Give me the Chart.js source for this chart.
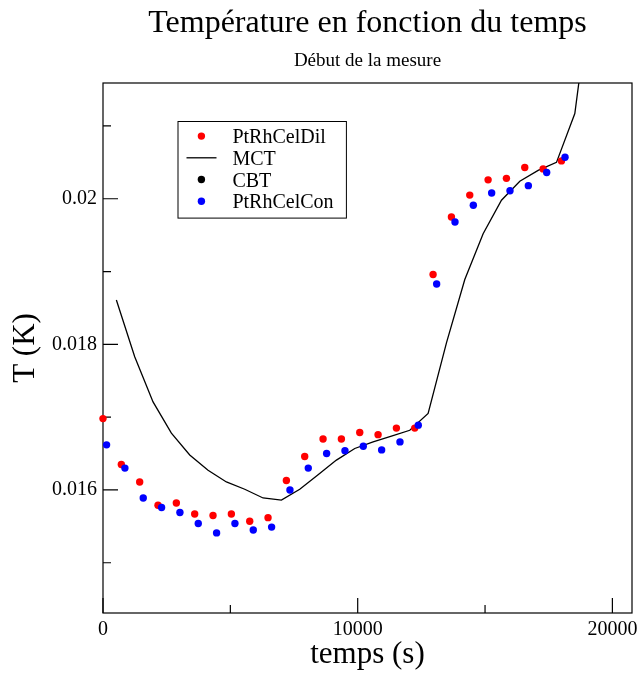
<!DOCTYPE html>
<html>
<head>
<meta charset="utf-8">
<script src="https://cdn.jsdelivr.net/npm/chart.js@4.4.1/dist/chart.umd.min.js"></script>
<style>
body { margin: 0; background: #fff; }
#wrap { width: 641px; height: 675px; }
</style>
</head>
<body>
<div id="wrap"><canvas id="myChart" width="641" height="675"></canvas></div>
<script>
// time (s) and temperature (K)
const timeDil = [0, 720, 1440, 2160, 2880, 3600, 4320, 5040, 5760, 6480, 7200, 7920, 8640, 9360,
    10080, 10800, 11520, 12240, 12960, 13680, 14400, 15120, 15840, 16560, 17280, 18000];
const tempDil = [0.01698, 0.01635, 0.01611, 0.01579, 0.01582, 0.01567, 0.01565, 0.01567, 0.01557, 0.01562,
    0.01613, 0.01646, 0.01670, 0.01670, 0.01679, 0.01676, 0.01685, 0.01685, 0.01896, 0.01975,
    0.02005, 0.02026, 0.02028, 0.02043, 0.02041, 0.02052];

const timeCon = [140, 860, 1580, 2300, 3020, 3740, 4460, 5180, 5900, 6620, 7340, 8060, 8780, 9500,
    10220, 10940, 11660, 12380, 13100, 13820, 14540, 15260, 15980, 16700, 17420, 18140];
const tempCon = [0.01662, 0.01630, 0.01589, 0.01576, 0.01569, 0.01554, 0.01541, 0.01554, 0.01545, 0.01549,
    0.01600, 0.01630, 0.01650, 0.01654, 0.01660, 0.01655, 0.01666, 0.01689, 0.01883, 0.01968,
    0.01991, 0.02008, 0.02011, 0.02018, 0.02036, 0.02057];

const timeMct = [525, 1245, 1965, 2685, 3405, 4125, 4845, 5565, 6285, 7005, 7725, 8445, 9165, 9885,
    10605, 11325, 12045, 12765, 13485, 14205, 14925, 15645, 16365, 17085, 17805, 18525, 19245];
const tempMct = [0.01861, 0.01783, 0.01721, 0.01678, 0.01648, 0.01627, 0.01611, 0.01601, 0.01589, 0.01586,
    0.01601, 0.01621, 0.01641, 0.01657, 0.01666, 0.01674, 0.01682, 0.01705, 0.01802, 0.01889,
    0.01952, 0.01998, 0.02024, 0.02039, 0.02050, 0.02117, 0.02310];

const timeCbt = [];
const tempCbt = [];

const xTicks = [0, 5000, 10000, 15000, 20000];
const xTickLabels = ['0', '', '10000', '', '20000'];
const yTicks = [0.015, 0.016, 0.017, 0.018, 0.019, 0.020, 0.021];
const yTickLabels = ['', '0.016', '', '0.018', '', '0.02', ''];

const toPoints = (xs, ys) => xs.map((x, i) => ({x: x, y: ys[i]}));

const serif = 'Liberation Serif';

// box around the plot + inward ticks
const framePlugin = {
    id: 'frame',
    beforeDatasetsDraw: (chart) => {
        const ctx = chart.ctx;
        const a = chart.chartArea;
        const xs = chart.scales.x;
        const ys = chart.scales.y;
        ctx.save();
        ctx.strokeStyle = '#000';
        ctx.lineWidth = 1.2;
        ctx.strokeRect(a.left, a.top, a.right - a.left, a.bottom - a.top);
        ctx.beginPath();
        xs.ticks.forEach((t, i) => {
            const px = xs.getPixelForValue(t.value);
            const len = xTickLabels[i] ? 15 : 8;
            ctx.moveTo(px, a.bottom);
            ctx.lineTo(px, a.bottom - len);
        });
        ys.ticks.forEach((t, i) => {
            const py = ys.getPixelForValue(t.value);
            const len = yTickLabels[i] ? 15 : 8;
            ctx.moveTo(a.left, py);
            ctx.lineTo(a.left + len, py);
        });
        ctx.stroke();
        ctx.restore();
    }
};

// legend in a box inside the plot
const legendPlugin = {
    id: 'boxLegend',
    afterDatasetsDraw: (chart) => {
        const ctx = chart.ctx;
        const a = chart.chartArea;
        const left = a.left + 75;
        const top = a.top + 38.5;
        ctx.save();
        ctx.fillStyle = '#fff';
        ctx.fillRect(left, top, 168.4, 96.6);
        ctx.strokeStyle = '#000';
        ctx.lineWidth = 1;
        ctx.strokeRect(left, top, 168.4, 96.6);
        ctx.font = '20px "' + serif + '"';
        ctx.textBaseline = 'alphabetic';
        chart.data.datasets.forEach((ds, i) => {
            const base = top + 21.6 + i * 21.7;
            const cy = base - 7;
            if (ds.showLine) {
                ctx.beginPath();
                ctx.strokeStyle = ds.borderColor;
                ctx.lineWidth = ds.borderWidth;
                ctx.moveTo(left + 8.5, cy);
                ctx.lineTo(left + 38.5, cy);
                ctx.stroke();
            } else {
                ctx.beginPath();
                ctx.fillStyle = ds.backgroundColor;
                ctx.arc(left + 23.4, cy, 3.7, 0, Math.PI * 2);
                ctx.fill();
            }
            ctx.fillStyle = '#000';
            ctx.fillText(ds.label, left + 54.4, base);
        });
        ctx.restore();
    }
};

const ctx = document.getElementById('myChart').getContext('2d');

const myChart = new Chart(ctx, {
    type: 'scatter',
    plugins: [framePlugin, legendPlugin],
    data: {
        datasets: [{
            label: 'PtRhCelDil',
            data: toPoints(timeDil, tempDil),
            backgroundColor: '#ff0000',
            borderColor: '#ff0000',
            pointRadius: 3.7,
            borderWidth: 0,
            clip: false,
            order: 2
        }, {
            label: 'MCT',
            data: toPoints(timeMct, tempMct),
            showLine: true,
            borderColor: '#000',
            backgroundColor: '#000',
            borderWidth: 1.3,
            pointRadius: 0,
            tension: 0,
            order: 3
        }, {
            label: 'CBT',
            data: toPoints(timeCbt, tempCbt),
            backgroundColor: '#000',
            borderColor: '#000',
            pointRadius: 3.7,
            borderWidth: 0,
            order: 1
        }, {
            label: 'PtRhCelCon',
            data: toPoints(timeCon, tempCon),
            backgroundColor: '#0000ff',
            borderColor: '#0000ff',
            pointRadius: 3.7,
            borderWidth: 0,
            clip: false,
            order: 0
        }]
    },
    options: {
        responsive: false,
        animation: false,
        devicePixelRatio: 1,
        layout: { padding: { top: 0, right: 9, bottom: 0, left: 0 } },
        plugins: {
            legend: { display: false },
            tooltip: { enabled: false },
            title: {
                display: true,
                fullSize: false,
                text: 'Température en fonction du temps',
                color: '#000',
                font: { family: serif, size: 32, weight: 'normal' },
                padding: { top: 4, bottom: 1 }
            },
            subtitle: {
                display: true,
                fullSize: false,
                text: 'Début de la mesure',
                color: '#000',
                font: { family: serif, size: 19, weight: 'normal' },
                padding: { top: 6, bottom: 10.8 }
            }
        },
        scales: {
            x: {
                type: 'linear',
                min: 0,
                max: 20770,
                grid: { display: false, drawTicks: false },
                border: { display: false },
                afterBuildTicks: (scale) => { scale.ticks = xTicks.map(v => ({value: v})); },
                afterFit: (scale) => {
                    scale.height = 62;
                    scale.paddingLeft = 0;
                    scale.paddingRight = 0;
                },
                ticks: {
                    autoSkip: false,
                    maxRotation: 0,
                    padding: 5,
                    color: '#000',
                    font: { family: serif, size: 20 },
                    callback: (value, index) => xTickLabels[index]
                },
                title: {
                    display: true,
                    text: 'temps (s)',
                    color: '#000',
                    font: { family: serif, size: 31 },
                    padding: { top: 0, bottom: 2 }
                }
            },
            y: {
                type: 'linear',
                min: 0.01431,
                max: 0.02159,
                grid: { display: false, drawTicks: false },
                border: { display: false },
                afterBuildTicks: (scale) => { scale.ticks = yTicks.map(v => ({value: v})); },
                afterFit: (scale) => {
                    scale.width = 103;
                    scale.paddingTop = 0;
                    scale.paddingBottom = 0;
                },
                ticks: {
                    autoSkip: false,
                    padding: 6,
                    color: '#000',
                    font: { family: serif, size: 20 },
                    callback: (value, index) => yTickLabels[index]
                },
                title: {
                    display: true,
                    text: 'T (K)',
                    color: '#000',
                    font: { family: serif, size: 31 },
                    padding: { top: 7, bottom: 0 }
                }
            }
        }
    }
});
</script>
</body>
</html>
